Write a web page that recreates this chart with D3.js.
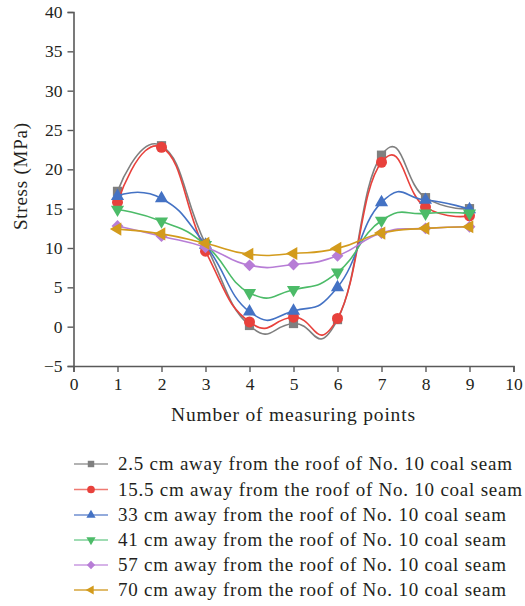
<!DOCTYPE html>
<html><head><meta charset="utf-8">
<script src="https://cdn.jsdelivr.net/npm/d3@7"></script>
<style>body{margin:0;background:#fff}svg{display:block}</style>
</head><body>
<svg id="c" width="525" height="606"></svg>
<script>
const points = [1,2,3,4,5,6,7,8,9];
const seriesNames = [
  "2.5 cm away from the roof of No. 10 coal seam",
  "15.5 cm away from the roof of No. 10 coal seam",
  "33 cm away from the roof of No. 10 coal seam",
  "41 cm away from the roof of No. 10 coal seam",
  "57 cm away from the roof of No. 10 coal seam",
  "70 cm away from the roof of No. 10 coal seam"
];
const s2_5  = [17.2, 23.0, 10.5, 0.15, 0.4, 0.9, 21.8, 16.4, 15.0];
const s15_5 = [15.8, 22.8, 9.6, 0.6, 1.2, 1.05, 20.9, 15.2, 14.1];
const s33   = [16.6, 16.3, 10.4, 1.9, 2.0, 5.0, 15.8, 16.1, 14.9];
const s41   = [14.9, 13.4, 10.4, 4.3, 4.7, 6.9, 13.5, 14.4, 14.4];
const s57   = [12.8, 11.5, 10.1, 7.8, 7.9, 9.0, 11.9, 12.5, 12.7];
const s70   = [12.4, 11.8, 10.6, 9.2, 9.3, 9.95, 11.9, 12.5, 12.7];
const seriesValues = [s2_5, s15_5, s33, s41, s57, s70];
const xTicks = [0,1,2,3,4,5,6,7,8,9,10];
const yTicks = [-5,0,5,10,15,20,25,30,35,40];

const colors = ["#7f7f7f", "#e8413c", "#4472c4", "#4cbb68", "#b77dd6", "#d39b1c"];
const legendLineColors = ["#9a9a9a", "#ef7a72", "#6f8fd0", "#7fd09a", "#c99ae0", "#d6a43a"];
const symbols = ["square","circle","triUp","triDown","diamond","triLeft"];
const legendWidths = [394, 404, 388, 388, 388, 388];

const svg = d3.select("#c");
const x = d3.scaleLinear().domain([0,10]).range([73.5, 513.5]);
const y = d3.scaleLinear().domain([-5,40]).range([366, 12]);
const font = "'Liberation Serif', 'Times New Roman', serif";
const axisColor = "#595959";
const textColor = "#231f20";

// axes
const yAxis = d3.axisLeft(y).tickValues(yTicks).tickSize(6).tickPadding(5)
  .tickFormat(d => d < 0 ? "\u2212" + Math.abs(d) : d);
const gy = svg.append("g").attr("transform", `translate(${x(0)},0)`).call(yAxis);
const xAxis = d3.axisBottom(x).tickValues(xTicks).tickSize(6).tickPadding(6);
const gx = svg.append("g").attr("transform", `translate(0,${y(-5)})`).call(xAxis);
[gx, gy].forEach(g => {
  g.select(".domain").attr("stroke", axisColor).attr("stroke-width", 1.6);
  g.selectAll(".tick line").attr("stroke", axisColor).attr("stroke-width", 1.4);
  g.selectAll(".tick text").attr("fill", textColor).style("font-family", font).style("font-size", "17.5px");
});

svg.append("text").attr("x", x(5) - 0.5).attr("y", 421).attr("text-anchor", "middle")
  .attr("fill", textColor).style("font-family", font).style("font-size", "19.5px")
  .attr("textLength", 244).attr("lengthAdjust", "spacing")
  .text("Number of measuring points");
svg.append("text").attr("transform", `translate(27,176.5) rotate(-90)`).attr("text-anchor", "middle")
  .attr("fill", textColor).style("font-family", font).style("font-size", "19px")
  .attr("textLength", 107).attr("lengthAdjust", "spacing")
  .text("Stress (MPa)");

function markerPath(kind) {
  switch (kind) {
    case "square": return d3.symbol(d3.symbolSquare, 85)();
    case "circle": return d3.symbol(d3.symbolCircle, 95)();
    case "diamond": return d3.symbol(d3.symbolSquare, 70)();
    default: return d3.symbol(d3.symbolTriangle, 75)();
  }
}
function markerRot(kind) {
  return {square:0, circle:0, diamond:45, triUp:0, triDown:180, triLeft:-90}[kind];
}

const line = d3.line().x((d,i) => x(points[i])).y(d => y(d)).curve(d3.curveCardinal.tension(-0.5));

seriesValues.forEach((vals, si) => {
  const g = svg.append("g");
  g.append("path").attr("d", line(vals)).attr("fill", "none")
    .attr("stroke", colors[si]).attr("stroke-width", 1.6);
  g.selectAll("path.m").data(vals).join("path").attr("class","m")
    .attr("d", markerPath(symbols[si]))
    .attr("transform", (d,i) => `translate(${x(points[i])},${y(d)}) rotate(${markerRot(symbols[si])})`)
    .attr("fill", colors[si]);
});

// legend
const legY = [464, 489.5, 515, 540, 565, 590];
seriesNames.forEach((name, si) => {
  const g = svg.append("g").attr("transform", `translate(0,${legY[si]})`);
  g.append("line").attr("x1", 74).attr("x2", 108).attr("y1", 0).attr("y2", 0)
    .attr("stroke", legendLineColors[si]).attr("stroke-width", 1.6);
  g.append("path").attr("d", markerPath(symbols[si]))
    .attr("transform", `translate(91,0) rotate(${markerRot(symbols[si])}) scale(0.7)`)
    .attr("fill", colors[si]);
  g.append("text").attr("x", 118).attr("y", 0).attr("dy", "0.33em")
    .attr("fill", textColor).style("font-family", font).style("font-size", "19px")
    .attr("textLength", legendWidths[si]).attr("lengthAdjust", "spacing")
    .text(name);
});
</script>
</body></html>
